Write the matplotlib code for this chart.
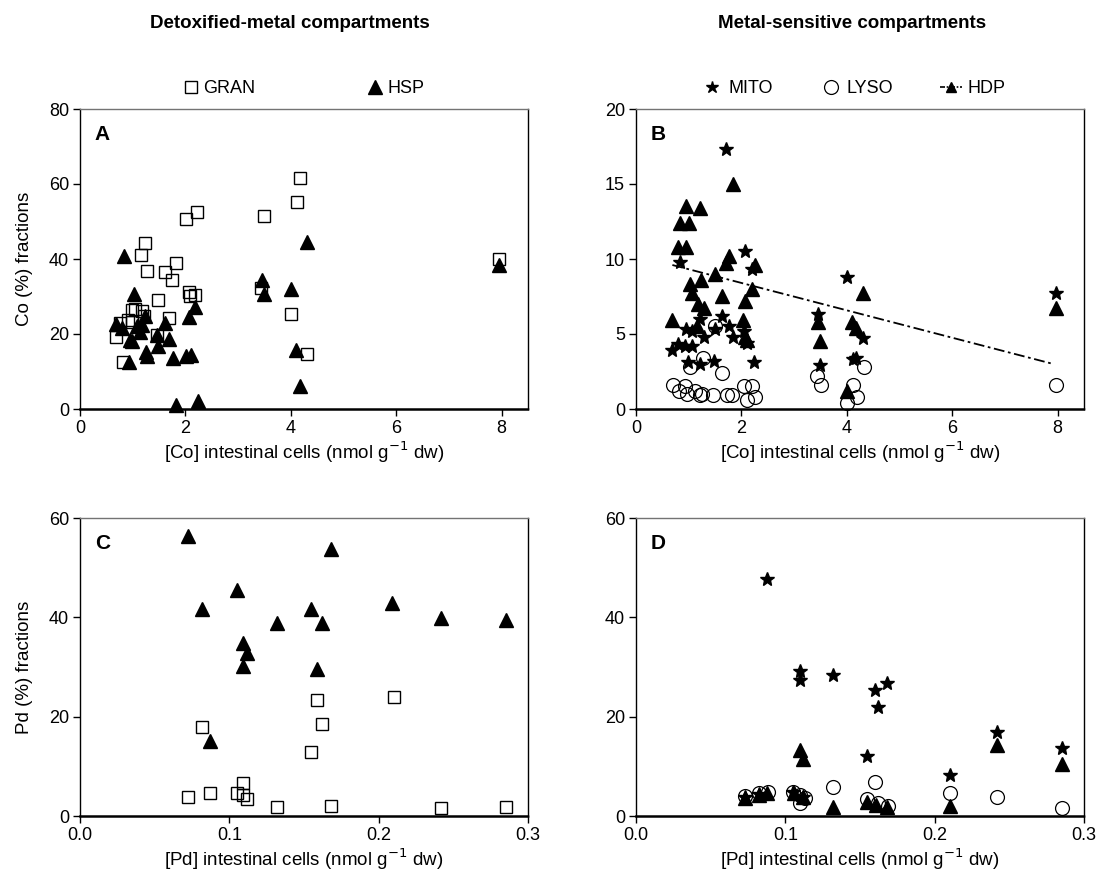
import matplotlib
matplotlib.use("Agg")
import matplotlib.pyplot as plt
import numpy as np
from matplotlib.lines import Line2D

plt.rcParams["font.family"] = ["Liberation Sans", "DejaVu Sans"]
plt.rcParams["font.size"] = 13

# Panel A - Co, detoxified-metal compartments
gran_co_x = [0.68, 0.76, 0.82, 0.92, 0.98, 0.98, 1.04, 1.16, 1.17, 1.22, 1.23, 1.27, 1.47, 1.48, 1.62,
             1.68, 1.75, 1.82, 2.02, 2.06, 2.08, 2.18, 2.22, 3.44, 3.50, 4.01, 4.11, 4.17, 4.31, 7.95]
gran_co_y = [19.1, 23.0, 12.4, 23.7, 23.3, 26.4, 26.6, 41.1, 26.0, 24.8, 44.2, 36.8, 19.7, 29.0, 36.6,
             24.2, 34.3, 38.8, 50.7, 31.1, 30.1, 30.4, 52.4, 32.2, 51.5, 25.3, 55.2, 61.7, 14.7, 40.0]
hsp_co_x = [0.68, 0.79, 0.84, 0.93, 0.95, 0.98, 1.02, 1.08, 1.14, 1.17, 1.23, 1.25, 1.28, 1.47, 1.48, 1.62,
            1.68, 1.76, 1.82, 2.01, 2.06, 2.10, 2.19, 2.23, 3.45, 3.50, 4.01, 4.10, 4.18, 4.31, 7.95]
hsp_co_y = [22.7, 21.5, 40.8, 12.6, 18.4, 18.2, 30.7, 22.0, 20.6, 22.4, 24.8, 15.3, 14.1, 19.7, 16.8, 23.0,
            18.6, 13.7, 1.1, 14.0, 24.4, 14.4, 27.1, 2.0, 34.4, 30.7, 31.9, 15.7, 6.0, 44.6, 38.5]

# Panel B - Co, metal-sensitive compartments
mito_co_x = [0.69, 0.80, 0.84, 0.93, 0.94, 0.99, 1.06, 1.07, 1.22, 1.22, 1.29, 1.48, 1.50, 1.63, 1.70,
             1.77, 1.84, 2.04, 2.07, 2.10, 2.20, 2.24, 3.46, 3.50, 4.01, 4.11, 4.18, 4.31, 7.96]
mito_co_y = [3.9, 4.3, 9.8, 4.2, 5.3, 3.1, 5.2, 4.2, 6.0, 3.0, 4.8, 3.2, 5.3, 6.2, 17.3,
             5.5, 4.8, 5.2, 10.5, 4.4, 9.3, 3.1, 6.3, 2.9, 8.8, 3.3, 3.4, 4.7, 7.7]
lyso_co_x = [0.70, 0.82, 0.93, 0.96, 1.03, 1.12, 1.22, 1.25, 1.28, 1.47, 1.50, 1.63, 1.72, 1.82, 2.05,
             2.10, 2.20, 2.26, 3.44, 3.51, 4.01, 4.11, 4.19, 4.32, 7.96]
lyso_co_y = [1.6, 1.2, 1.5, 1.0, 2.8, 1.2, 0.9, 1.0, 3.4, 0.9, 5.5, 2.4, 0.9, 0.9, 1.5,
             0.6, 1.5, 0.8, 2.2, 1.6, 0.4, 1.6, 0.8, 2.8, 1.6]
hdp_co_x = [0.69, 0.80, 0.84, 0.94, 0.95, 1.00, 1.03, 1.07, 1.15, 1.18, 1.22, 1.23, 1.29, 1.50, 1.63, 1.70,
            1.77, 1.84, 2.03, 2.07, 2.07, 2.10, 2.20, 2.25, 3.46, 3.50, 4.01, 4.10, 4.18, 4.31, 7.96]
hdp_co_y = [5.9, 10.8, 12.4, 13.5, 10.8, 12.4, 8.3, 7.7, 5.5, 7.0, 13.4, 8.6, 6.7, 9.0, 7.5, 9.7,
            10.2, 15.0, 5.9, 7.2, 4.8, 4.6, 8.0, 9.6, 5.8, 4.5, 1.2, 5.8, 5.4, 7.7, 6.7]
hdp_fit_intercept = 10.23
hdp_fit_slope = -0.913
hdp_fit_range = [0.69, 7.92]

# Panel C - Pd, detoxified-metal compartments
gran_pd_x = [0.0725, 0.082, 0.087, 0.105, 0.109, 0.109, 0.112, 0.132, 0.155, 0.159, 0.162, 0.168, 0.210, 0.242, 0.285]
gran_pd_y = [3.9, 17.9, 4.7, 4.7, 6.6, 4.2, 3.4, 1.9, 12.8, 23.4, 18.5, 2.0, 24.0, 1.7, 1.8]
hsp_pd_x = [0.0725, 0.082, 0.087, 0.105, 0.109, 0.112, 0.109, 0.132, 0.155, 0.159, 0.162, 0.168, 0.209, 0.242, 0.285]
hsp_pd_y = [56.4, 41.7, 15.1, 45.5, 34.8, 32.8, 30.3, 38.8, 41.7, 29.5, 38.9, 53.7, 42.8, 39.9, 39.5]

# Panel D - Pd, metal-sensitive compartments
mito_pd_x = [0.073, 0.0825, 0.0878, 0.105, 0.110, 0.110, 0.112, 0.132, 0.155, 0.160, 0.162, 0.168, 0.210, 0.242, 0.285]
mito_pd_y = [3.9, 4.4, 47.7, 4.9, 29.2, 27.4, 3.9, 28.3, 12.1, 25.4, 21.9, 26.7, 8.3, 17.0, 13.6]
lyso_pd_x = [0.073, 0.0825, 0.0885, 0.105, 0.110, 0.110, 0.113, 0.132, 0.155, 0.160, 0.162, 0.169, 0.210, 0.242, 0.285]
lyso_pd_y = [4.0, 4.6, 4.9, 4.9, 4.2, 2.7, 3.6, 5.8, 3.4, 6.9, 2.7, 2.0, 4.7, 3.9, 1.7]
hdp_pd_x = [0.073, 0.0825, 0.088, 0.106, 0.110, 0.112, 0.112, 0.132, 0.155, 0.161, 0.168, 0.210, 0.242, 0.285]
hdp_pd_y = [3.7, 4.2, 4.6, 4.6, 13.3, 11.4, 3.9, 1.9, 2.9, 2.2, 1.9, 2.0, 14.3, 10.5]

co_label = "[Co] intestinal cells (nmol g$^{-1}$ dw)"
pd_label = "[Pd] intestinal cells (nmol g$^{-1}$ dw)"

SQ = dict(marker="s", ms=9, mfc="none", mec="black", mew=1.0, ls="none")
TRI = dict(marker="^", ms=9.5, color="black", ls="none")
STAR = dict(marker="*", ms=10, color="black", ls="none")
CIRC = dict(marker="o", ms=10, mfc="none", mec="black", mew=0.9, ls="none")


def style_axes(ax, letter, xlim, ylim, xticks, yticks):
    ax.set_xlim(*xlim)
    ax.set_ylim(*ylim)
    ax.set_xticks(xticks)
    ax.set_yticks(yticks)
    ax.tick_params(direction="out", length=5, width=1, labelsize=13, pad=3)
    ax.spines["bottom"].set_linestyle((0, (1, 1)))
    ax.spines["bottom"].set_linewidth(1.8)
    ax.spines["top"].set_color("0.45")
    ax.spines["top"].set_linewidth(1.0)
    ax.spines["right"].set_linewidth(1.0)
    ax.spines["left"].set_linewidth(1.0)
    ax.text(0.033, 0.915, letter, transform=ax.transAxes, fontsize=15,
            fontweight="bold", va="center", ha="left")


def main():
    fig = plt.figure(figsize=(11.01, 8.88), dpi=100)
    W, H = 1101, 888
    ax_a = fig.add_axes([80 / W, 1 - 409 / H, 448 / W, 300 / H])
    ax_b = fig.add_axes([636 / W, 1 - 409 / H, 448 / W, 300 / H])
    ax_c = fig.add_axes([80 / W, 1 - 816 / H, 448 / W, 298 / H])
    ax_d = fig.add_axes([636 / W, 1 - 816 / H, 448 / W, 298 / H])

    # A
    ax_a.plot(gran_co_x, gran_co_y, **SQ, label="GRAN", zorder=3)
    ax_a.plot(hsp_co_x, hsp_co_y, **TRI, label="HSP", zorder=3)
    style_axes(ax_a, "A", (0, 8.5), (0, 80), [0, 2, 4, 6, 8], [0, 20, 40, 60, 80])
    ax_a.set_ylabel("Co (%) fractions", fontsize=13.5, labelpad=11)
    ax_a.set_xlabel(co_label, fontsize=13.5, labelpad=2)
    ax_a.legend(loc="lower center", bbox_to_anchor=(0.5, 0.985), ncol=2, frameon=False,
                fontsize=13, handlelength=0.8, handletextpad=0.3, columnspacing=6.2)

    # B
    ax_b.plot(mito_co_x, mito_co_y, **STAR, zorder=3)
    ax_b.plot(lyso_co_x, lyso_co_y, **CIRC, zorder=3)
    ax_b.plot(hdp_co_x, hdp_co_y, **TRI, zorder=3)
    fx = np.array(hdp_fit_range)
    ax_b.plot(fx, hdp_fit_intercept + hdp_fit_slope * fx, color="black", lw=1.3,
              ls=(0, (6, 2, 1.5, 2)), zorder=2)
    style_axes(ax_b, "B", (0, 8.5), (0, 20), [0, 2, 4, 6, 8], [0, 5, 10, 15, 20])
    ax_b.set_xlabel(co_label, fontsize=13.5, labelpad=2)
    handles = [
        Line2D([], [], marker="*", ms=9, color="black", ls="none"),
        Line2D([], [], **CIRC),
        Line2D([], [], marker="^", ms=7, color="black", lw=1.2, ls=(0, (3, 1, 1, 1))),
    ]
    ax_b.legend(handles, ["MITO", "LYSO", "HDP"], loc="lower center", bbox_to_anchor=(0.485, 0.985),
                ncol=3, frameon=False, fontsize=13, handlelength=1.2, handletextpad=0.3,
                columnspacing=2.6)

    # C
    ax_c.plot(gran_pd_x, gran_pd_y, **SQ, zorder=3)
    ax_c.plot(hsp_pd_x, hsp_pd_y, **TRI, zorder=3)
    style_axes(ax_c, "C", (0, 0.3), (0, 60), [0, 0.1, 0.2, 0.3], [0, 20, 40, 60])
    ax_c.set_xticklabels(["0.0", "0.1", "0.2", "0.3"])
    ax_c.set_ylabel("Pd (%) fractions", fontsize=13.5, labelpad=11)
    ax_c.set_xlabel(pd_label, fontsize=13.5, labelpad=2)

    # D
    ax_d.plot(mito_pd_x, mito_pd_y, **STAR, zorder=3)
    ax_d.plot(lyso_pd_x, lyso_pd_y, **CIRC, zorder=3)
    ax_d.plot(hdp_pd_x, hdp_pd_y, **TRI, zorder=3)
    style_axes(ax_d, "D", (0, 0.3), (0, 60), [0, 0.1, 0.2, 0.3], [0, 20, 40, 60])
    ax_d.set_xticklabels(["0.0", "0.1", "0.2", "0.3"])
    ax_d.set_xlabel(pd_label, fontsize=13.5, labelpad=2)

    fig.text(290 / W, 1 - 23 / H, "Detoxified-metal compartments", ha="center", va="center",
             fontsize=13.5, fontweight="bold")
    fig.text(852 / W, 1 - 23 / H, "Metal-sensitive compartments", ha="center", va="center",
             fontsize=13.5, fontweight="bold")

    for ax in (ax_a, ax_b, ax_c, ax_d):
        for line in ax.lines:
            line.set_clip_on(False)

    plt.savefig("out.png", dpi=100)


if __name__ == "__main__":
    main()
